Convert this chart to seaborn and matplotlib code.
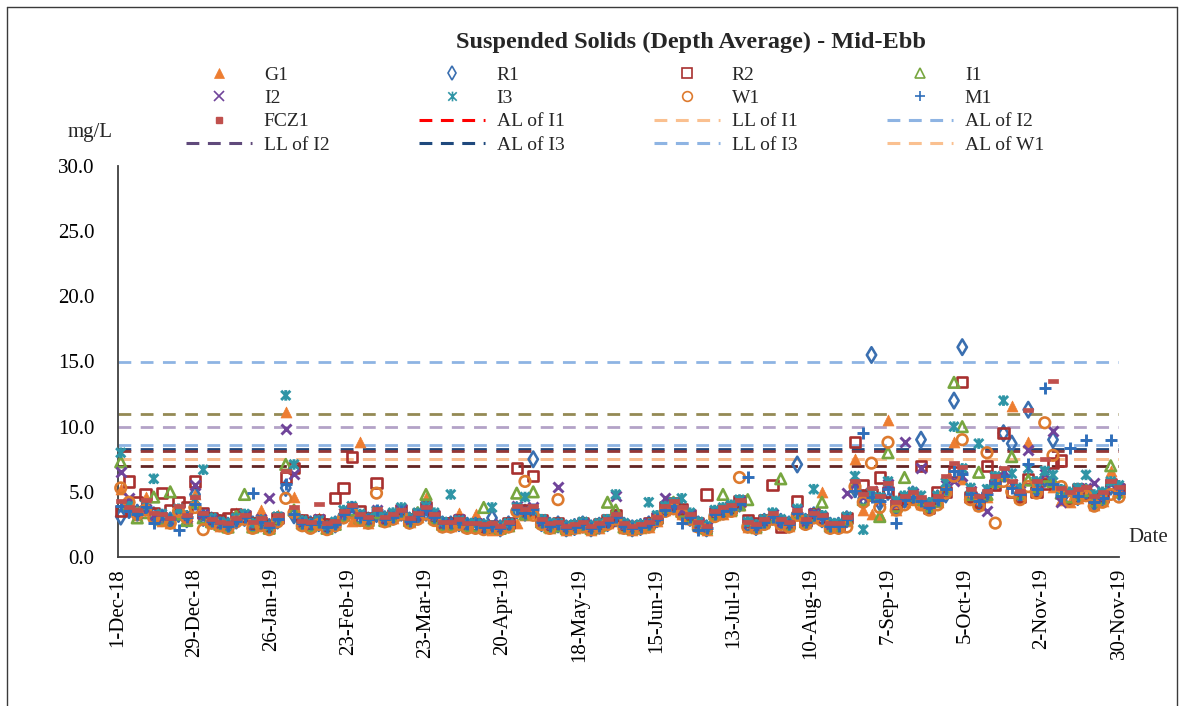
import numpy as np
import pandas as pd
import matplotlib
matplotlib.use("Agg")
import matplotlib.pyplot as plt
from matplotlib.lines import Line2D
from matplotlib.path import Path
import seaborn as sns

# ---------------- data ----------------
title = "Suspended Solids (Depth Average) - Mid-Ebb"
first_sample = "2018-12-02"
sample_step = "3D"
axis_start = "2018-12-01"
axis_end = "2019-11-30"
tick_step_days = 28

G1 = [5.2, 4.0, 3.2, 4.6, 3.0, 2.8, 2.6, 3.5, 3.0, 4.8,
      3.2, 2.6, 2.4, 2.3, 3.4, 2.9, 2.4, 3.6, 2.3, 3.2,
      11.1, 4.6, 2.5, 2.4, 3.0, 2.4, 2.6, 3.3, 2.8, 8.8,
      2.6, 3.4, 2.8, 3.0, 3.6, 2.7, 3.1, 4.5, 2.9, 2.4,
      2.4, 3.4, 2.3, 3.3, 2.2, 2.1, 2.2, 2.4, 2.6, 3.2,
      3.4, 2.6, 2.2, 2.4, 2.1, 2.2, 2.4, 2.1, 2.2, 2.6,
      2.8, 2.2, 2.1, 2.2, 2.3, 2.8, 3.6, 3.8, 3.3, 2.9,
      2.4, 2.1, 3.2, 3.3, 3.5, 4.0, 2.3, 2.2, 2.6, 2.9,
      2.6, 2.4, 3.2, 2.6, 3.1, 5.0, 2.3, 2.3, 2.8, 7.5,
      3.6, 3.3, 3.2, 10.5, 3.6, 4.2, 4.6, 4.1, 3.8, 4.2,
      5.4, 8.8, 6.0, 4.6, 4.0, 4.6, 5.5, 6.2, 11.6, 4.6,
      8.8, 5.0, 5.8, 5.4, 4.4, 4.2, 4.5, 4.8, 4.0, 4.3,
      6.6, 5.0]
R1 = [3.1, 3.6, 3.4, 3.8, 3.2, 3.0, 2.8, 3.3, 2.9, 4.8,
      3.0, 2.8, 2.6, 2.4, 2.8, 3.0, 2.5, 2.6, 2.3, 2.8,
      5.3, 3.2, 2.6, 2.5, 2.6, 2.3, 2.5, 3.2, 3.6, 3.0,
      2.8, 3.3, 2.9, 3.1, 3.4, 2.8, 3.1, 3.4, 3.0, 2.5,
      2.5, 2.6, 2.4, 2.4, 2.3, 3.0, 2.2, 2.5, 3.6, 3.4,
      7.5, 2.6, 2.4, 2.5, 2.2, 2.3, 2.5, 2.2, 2.4, 2.6,
      3.0, 2.4, 2.2, 2.3, 2.5, 2.9, 3.7, 3.9, 3.5, 3.0,
      2.5, 2.2, 3.3, 3.5, 3.7, 4.1, 2.5, 2.3, 2.7, 3.1,
      2.7, 2.5, 7.1, 2.7, 3.2, 2.9, 2.4, 2.4, 2.9, 5.2,
      4.5, 15.5, 4.2, 5.0, 3.8, 4.4, 4.8, 9.0, 3.9, 4.5,
      4.8, 12.0, 16.1, 4.8, 4.2, 4.9, 5.8, 9.5, 8.7, 4.8,
      11.3, 5.2, 6.0, 9.0, 4.8, 4.5, 4.6, 5.0, 4.2, 4.6,
      5.4, 5.0]
R2 = [3.5, 5.8, 4.2, 4.8, 3.4, 4.9, 3.6, 4.2, 3.8, 5.8,
      3.4, 3.0, 2.8, 3.0, 3.3, 3.1, 2.6, 2.7, 2.4, 3.0,
      6.1, 6.8, 2.8, 2.6, 2.8, 2.5, 4.5, 5.3, 7.7, 3.5,
      3.0, 5.7, 3.0, 3.2, 3.6, 2.9, 3.3, 3.8, 3.1, 2.6,
      2.6, 2.8, 2.4, 2.5, 2.3, 2.4, 2.3, 2.6, 6.8, 3.6,
      6.2, 2.8, 2.4, 2.6, 2.2, 2.4, 2.6, 2.2, 2.5, 2.8,
      3.2, 2.4, 2.2, 2.4, 2.6, 3.0, 3.8, 4.1, 3.7, 3.2,
      2.6, 4.8, 3.4, 3.6, 3.8, 4.3, 2.8, 2.6, 2.8, 5.5,
      2.3, 2.6, 4.3, 2.8, 3.3, 3.0, 2.4, 2.4, 3.0, 8.8,
      5.5, 4.8, 6.1, 5.0, 4.0, 4.5, 4.6, 7.0, 3.8, 5.0,
      5.0, 6.5, 13.4, 4.6, 4.2, 7.0, 5.5, 9.5, 5.0, 4.6,
      6.0, 5.0, 5.6, 7.2, 7.4, 4.5, 5.2, 4.8, 4.4, 4.6,
      5.6, 5.2]
I1 = [7.3, 4.0, 3.0, 3.4, 4.6, 2.9, 5.0, 3.3, 2.8, 4.2,
      3.0, 2.7, 2.5, 2.3, 3.1, 4.8, 2.3, 2.7, 2.2, 3.0,
      7.1, 3.6, 2.6, 2.4, 2.7, 2.2, 2.5, 3.2, 3.6, 3.0,
      2.8, 3.4, 2.8, 3.2, 3.5, 2.8, 3.4, 4.8, 3.0, 2.5,
      2.5, 2.7, 2.4, 2.4, 3.8, 2.3, 2.2, 2.4, 4.9, 3.3,
      5.0, 2.7, 2.3, 2.4, 2.2, 2.3, 2.5, 2.2, 2.4, 4.2,
      3.6, 2.3, 2.2, 2.3, 2.5, 3.0, 3.8, 4.2, 3.5, 3.1,
      2.5, 2.2, 3.3, 4.8, 3.6, 4.0, 4.4, 2.3, 2.7, 3.1,
      6.0, 2.5, 3.4, 2.7, 3.2, 4.2, 2.4, 2.4, 2.9, 5.4,
      4.4, 4.8, 3.1, 8.0, 3.9, 6.1, 4.7, 4.4, 3.9, 4.3,
      5.2, 13.4, 10.0, 4.8, 6.5, 4.8, 5.8, 6.3, 7.7, 4.9,
      5.9, 5.4, 6.2, 5.8, 4.9, 4.6, 4.8, 5.1, 4.3, 4.5,
      7.0, 5.0]
I2 = [6.5, 4.5, 3.4, 3.7, 3.2, 3.1, 2.9, 3.6, 3.1, 5.5,
      3.3, 2.9, 2.6, 2.5, 2.9, 3.2, 2.5, 2.9, 4.5, 3.1,
      9.8, 6.4, 2.7, 2.5, 2.9, 2.4, 2.6, 3.4, 3.7, 3.2,
      2.9, 3.6, 3.0, 3.3, 3.7, 2.9, 3.2, 3.7, 3.2, 2.6,
      2.6, 2.9, 2.5, 2.6, 2.4, 2.5, 2.3, 2.5, 3.9, 3.6,
      3.8, 2.8, 2.5, 5.4, 2.3, 2.4, 2.6, 2.3, 2.5, 2.7,
      4.7, 2.5, 2.3, 2.4, 2.6, 3.1, 4.5, 4.0, 3.6, 3.3,
      2.6, 2.3, 3.5, 3.7, 3.9, 4.3, 2.6, 2.4, 2.8, 3.3,
      2.8, 2.6, 3.6, 2.8, 3.4, 3.1, 2.5, 2.5, 4.9, 5.6,
      4.6, 5.1, 4.4, 5.6, 4.1, 8.8, 4.9, 6.8, 4.1, 4.6,
      5.5, 5.8, 6.2, 5.1, 4.6, 3.5, 6.1, 6.6, 5.6, 5.1,
      8.2, 5.6, 6.4, 9.7, 4.2, 4.9, 5.1, 5.3, 5.7, 4.7,
      5.6, 5.3]
I3 = [8.0, 3.9, 3.5, 4.0, 6.0, 3.3, 3.0, 3.7, 3.2, 4.4,
      6.7, 3.0, 2.7, 2.6, 3.0, 3.3, 2.6, 2.8, 2.4, 3.1,
      12.4, 7.1, 2.8, 2.6, 2.8, 2.4, 2.7, 3.6, 3.9, 3.3,
      3.0, 3.5, 3.1, 3.4, 3.8, 3.0, 3.4, 3.9, 3.4, 2.7,
      4.8, 2.8, 2.6, 2.6, 2.5, 3.8, 2.4, 2.6, 3.8, 4.6,
      3.6, 2.9, 2.6, 2.6, 2.4, 2.5, 2.7, 2.4, 2.6, 2.9,
      4.8, 2.6, 2.4, 2.5, 4.2, 3.2, 3.9, 4.2, 4.5, 3.4,
      2.7, 2.4, 3.6, 3.8, 4.0, 4.4, 2.7, 2.5, 2.9, 3.4,
      2.9, 2.7, 3.7, 2.9, 5.2, 3.2, 2.6, 2.6, 3.1, 6.2,
      2.1, 4.9, 4.6, 5.8, 4.3, 4.7, 5.0, 4.7, 4.2, 4.7,
      5.7, 10.0, 6.8, 5.3, 8.7, 5.2, 6.2, 12.0, 6.4, 5.3,
      6.8, 5.8, 6.6, 6.3, 5.2, 5.0, 5.3, 6.3, 4.8, 5.0,
      5.8, 5.5]
W1 = [5.3, 4.2, 3.3, 3.6, 3.0, 2.8, 2.6, 3.5, 3.0, 3.8,
      2.1, 2.6, 2.4, 2.2, 2.7, 2.9, 2.2, 2.4, 2.1, 2.7,
      4.5, 3.4, 2.4, 2.2, 2.5, 2.1, 2.4, 3.0, 3.4, 2.8,
      2.6, 4.9, 2.7, 2.9, 3.3, 2.6, 2.9, 3.3, 2.8, 2.3,
      2.3, 2.5, 2.2, 2.2, 2.1, 2.3, 2.1, 2.3, 3.5, 5.8,
      3.2, 2.5, 2.2, 4.4, 2.1, 2.2, 2.3, 2.1, 2.3, 2.5,
      2.9, 2.2, 2.1, 2.2, 2.3, 2.8, 3.5, 3.7, 3.3, 2.9,
      2.3, 2.1, 3.1, 3.3, 3.5, 6.1, 2.3, 2.2, 2.5, 2.9,
      2.5, 2.3, 3.2, 2.5, 3.0, 2.8, 2.2, 2.2, 2.3, 5.4,
      4.2, 7.2, 3.8, 8.8, 3.6, 4.0, 4.4, 4.0, 3.6, 4.0,
      4.9, 6.2, 9.0, 4.4, 3.9, 8.0, 2.6, 5.8, 5.0, 4.4,
      5.4, 4.9, 10.3, 7.8, 5.4, 4.3, 4.5, 4.7, 3.9, 4.2,
      4.8, 4.6]
M1 = [3.9, 3.5, 3.3, 3.8, 2.6, 3.2, 2.9, 2.1, 3.1, 4.1,
      3.2, 2.8, 2.6, 2.4, 2.8, 3.1, 4.9, 2.7, 2.3, 2.9,
      5.6, 3.3, 2.6, 2.5, 2.7, 2.3, 2.5, 3.3, 3.8, 3.1,
      2.9, 3.6, 2.9, 3.1, 3.5, 2.8, 3.2, 3.6, 3.1, 2.6,
      2.6, 2.7, 2.5, 2.5, 2.3, 2.4, 2.2, 2.5, 3.7, 3.4,
      3.7, 2.7, 2.4, 2.5, 2.2, 2.3, 2.5, 2.2, 2.4, 2.7,
      3.1, 2.4, 2.2, 2.3, 2.5, 2.9, 3.6, 3.9, 2.6, 3.1,
      2.1, 2.2, 3.3, 3.5, 3.7, 4.1, 6.1, 2.3, 2.7, 3.1,
      2.7, 2.5, 3.4, 2.7, 3.2, 3.0, 2.4, 2.4, 2.9, 5.1,
      9.5, 4.6, 4.3, 5.2, 2.6, 4.4, 4.6, 4.3, 3.8, 4.4,
      5.2, 6.6, 6.4, 4.8, 4.3, 4.8, 5.7, 6.2, 5.3, 4.8,
      7.1, 5.2, 13.0, 5.6, 4.7, 8.4, 4.7, 9.0, 4.2, 4.5,
      9.0, 4.9]
FCZ1 = [4.3, 3.8, 3.6, 4.4, 3.4, 3.3, 3.0, 3.9, 3.2, 4.6,
        3.4, 2.9, 2.7, 2.6, 3.0, 3.2, 2.7, 3.0, 2.5, 3.2,
        6.6, 3.8, 2.8, 2.7, 4.1, 2.6, 2.8, 3.5, 4.0, 3.3,
        3.1, 3.7, 3.1, 3.3, 3.6, 3.0, 3.4, 3.8, 3.3, 2.7,
        2.7, 2.9, 2.6, 2.6, 2.5, 2.6, 2.4, 2.7, 3.9, 3.7,
        3.9, 2.9, 2.6, 2.7, 2.4, 2.5, 2.7, 2.4, 2.6, 2.9,
        3.3, 2.6, 2.4, 2.5, 2.7, 3.1, 3.9, 4.3, 3.8, 3.3,
        2.7, 2.4, 3.5, 3.8, 4.0, 4.4, 2.7, 2.5, 2.9, 3.4,
        2.9, 2.7, 3.6, 2.9, 3.4, 3.2, 2.6, 2.6, 3.1, 5.8,
        4.8, 5.3, 4.7, 5.7, 4.2, 4.7, 5.0, 4.6, 4.1, 4.7,
        6.2, 7.2, 6.9, 5.2, 4.7, 5.1, 6.2, 6.8, 5.8, 5.1,
        11.3, 5.8, 7.5, 13.5, 5.3, 5.0, 5.2, 5.4, 4.7, 5.0,
        5.8, 5.4]

stations = ["G1", "R1", "R2", "I1", "I2", "I3", "W1", "M1", "FCZ1"]
station_colors = ["#ED7D31", "#3A6FB0", "#A8302F", "#77A63F", "#70449A",
                  "#2F95A6", "#DD7A2E", "#2F6EBA", "#C0504D"]

# Action / limit levels (mg/L)
limit_labels = ["AL of I2", "LL of W1", "LL of I2", "LL of I3", "AL of I3",
                "AL of I1", "LL of I1", "AL of W1", "LL of M1"]
limit_values = [15.0, 11.0, 10.0, 8.6, 8.3, 8.1, 7.5, 7.5, 7.0]
limit_colors = ["#8EB4E3", "#948A54", "#B3A2C7", "#8EB4E3", "#1F497D",
                "#953735", "#FAC090", "#FAC090", "#632523"]

legend_lines = ["AL of I1", "LL of I1", "AL of I2", "LL of I2",
                "AL of I3", "LL of I3", "AL of W1"]
legend_line_colors = ["#FF0000", "#FAC090", "#8EB4E3", "#604A7B",
                      "#1F497D", "#8EB4E3", "#FAC090"]

# ---------------- style ----------------
sns.set_theme(style="white")
plt.rcParams["font.family"] = ["Liberation Serif", "DejaVu Serif"]

W, H = 1188, 706
fig = plt.figure(figsize=(W / 100, H / 100), dpi=100)
ax = fig.add_axes([118 / W, 149 / H, (1119 - 118) / W, (557 - 166) / H])

star = Path([(-1, -1), (1, 1), (-1, 1), (1, -1), (0, -1.15), (0, 1.15)],
            [Path.MOVETO, Path.LINETO, Path.MOVETO, Path.LINETO, Path.MOVETO, Path.LINETO])
dash = Path([(-1, -0.45), (1, -0.45), (1, 0.45), (-1, 0.45), (-1, -0.45)],
            [Path.MOVETO, Path.LINETO, Path.LINETO, Path.LINETO, Path.CLOSEPOLY])

# marker, filled?, size, linewidth
marker_spec = {
    "G1": ("^", True, 62, 0.5),
    "R1": ("d", False, 62, 1.9),
    "R2": ("s", False, 54, 1.9),
    "I1": ("^", False, 58, 1.9),
    "I2": ("x", None, 52, 2.1),
    "I3": (star, False, 58, 2.1),
    "W1": ("o", False, 58, 1.9),
    "M1": ("+", None, 68, 2.1),
    "FCZ1": (dash, True, 45, 0.5),
}

dates = pd.date_range(first_sample, periods=len(G1), freq=sample_step)
series = [G1, R1, R2, I1, I2, I3, W1, M1, FCZ1]

# limit lines
for lab, val, col in zip(limit_labels, limit_values, limit_colors):
    ax.axhline(val, color=col, lw=2.0, linestyle=(0, (4.6, 3.4)), zorder=1)

for z, (name, vals, col) in enumerate(zip(stations, series, station_colors)):
    df = pd.DataFrame({"Date": dates, "SS": vals})
    m, filled, s, lw = marker_spec[name]
    kw = dict(marker=m, s=s, linewidth=lw, legend=False, clip_on=False, zorder=3 + z)
    if filled is True:
        kw.update(color=col, edgecolor=col)
    elif filled is False:
        kw.update(color=col, facecolor="none", edgecolor=col)
    else:
        kw.update(color=col)
    sns.scatterplot(data=df, x="Date", y="SS", ax=ax, **kw)

# axes
x0 = pd.Timestamp(axis_start)
x1 = pd.Timestamp(axis_end)
ax.set_xlim(x0, x1)
ax.set_ylim(0, 30)
ticks = pd.date_range(x0, x1, freq=f"{tick_step_days}D")
ax.set_xticks(ticks)
ax.set_xticklabels([f"{d.day}-{d:%b-%y}" for d in ticks], rotation=90, fontsize=15)
ax.set_yticks(np.arange(0, 30.1, 5))
ax.set_yticklabels([f"{v:.1f}" for v in np.arange(0, 30.1, 5)], fontsize=15)
ax.tick_params(axis="both", direction="in", length=6, width=1.2, colors="#333333",
               labelcolor="black")
ax.tick_params(axis="y", pad=17)
ax.tick_params(axis="x", pad=8)
ax.set_xlabel("")
ax.set_ylabel("")
for sp in ["top", "right"]:
    ax.spines[sp].set_visible(False)
for sp in ["left", "bottom"]:
    ax.spines[sp].set_color("#404040")
    ax.spines[sp].set_linewidth(1.3)
ax.grid(False)

# texts
fig.text(691 / W, 1 - 42 / H, title, ha="center", va="center", fontsize=17.5, weight="bold")
fig.text(90 / W, 1 - 133 / H, "mg/L", ha="center", va="center", fontsize=15)
fig.text(1148 / W, 1 - 537 / H, "Date", ha="center", va="center", fontsize=15)

# legend (column-major fill -> reorder so it reads row by row)
handles = {}
for name, col in zip(stations, station_colors):
    m, filled, s, lw = marker_spec[name]
    if name == "FCZ1":
        h = Line2D([], [], linestyle="none", marker="s", markersize=4, color=col,
                   markeredgecolor=col)
    elif filled is True:
        h = Line2D([], [], linestyle="none", marker=m, markersize=7, color=col,
                   markeredgecolor=col, markeredgewidth=0.5)
    elif filled is False:
        h = Line2D([], [], linestyle="none", marker=m, markersize=7, color=col,
                   markerfacecolor="none", markeredgecolor=col, markeredgewidth=1.2)
    else:
        h = Line2D([], [], linestyle="none", marker=m, markersize=7, color=col,
                   markeredgewidth=1.2)
    handles[name] = h
for lab, col in zip(legend_lines, legend_line_colors):
    handles[lab] = Line2D([], [], color=col, lw=2.2, linestyle=(0, (4.2, 2.8)))

row_order = stations + legend_lines
ncol = 4
col_major = [row_order[r * ncol + c] for c in range(ncol) for r in range(4)]
leg = fig.legend([handles[k] for k in col_major], col_major, ncol=ncol,
                 loc="upper left", bbox_to_anchor=(186 / W, 1 - 66 / H),
                 frameon=False, fontsize=14, handlelength=3.4, handletextpad=0.6,
                 columnspacing=4.6, labelspacing=0.3, borderpad=0, borderaxespad=0)

# outer chart border
border_kw = dict(color="#3a3a3a", lw=1.0, transform=fig.transFigure)
fig.add_artist(Line2D([7 / W, 7 / W], [0, 1 - 7 / H], **border_kw))
fig.add_artist(Line2D([7 / W, 1177 / W], [1 - 7 / H, 1 - 7 / H], **border_kw))
fig.add_artist(Line2D([1177 / W, 1177 / W], [0, 1 - 7 / H], **border_kw))

fig.savefig("out.png", dpi=100, facecolor="white")
